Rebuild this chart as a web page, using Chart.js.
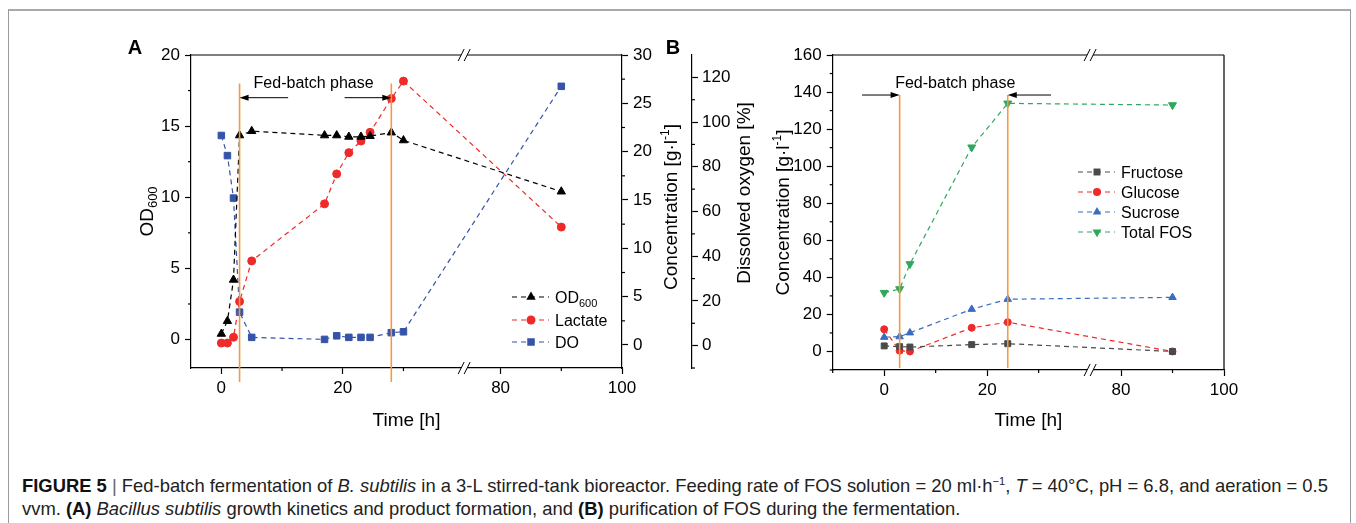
<!DOCTYPE html>
<html>
<head>
<meta charset="utf-8">
<script src="https://cdn.jsdelivr.net/npm/chart.js@4.4.1/dist/chart.umd.min.js"></script>
<style>
  body { margin: 0; background: #fff; width: 1356px; height: 523px; overflow: hidden; position: relative; font-family: "Liberation Sans", Arial, sans-serif; }
  #frame { position: absolute; left: 8px; top: 9px; width: 1341px; height: 520px; border-top: 2px solid #a9a9a9; border-left: 1px solid #9a9a9a; border-right: 1px solid #9a9a9a; }
  #wrapA { position: absolute; left: 0; top: 0; width: 760px; height: 440px; }
  #wrapB { position: absolute; left: 660px; top: 0; width: 696px; height: 440px; }
  .cap { position: absolute; left: 22px; font-size: 18.4px; color: #222; white-space: nowrap; line-height: 20px; }
  .cap b { color: #111; }
  .cap sup { font-size: 11px; line-height: 0; }
</style>
</head>
<body>
<div id="frame"></div>
<div id="wrapA"><canvas id="chartA" width="760" height="440"></canvas></div>
<div id="wrapB"><canvas id="chartB" width="696" height="440"></canvas></div>
<div class="cap" style="top:476px"><b>FIGURE 5</b> <span style="color:#666">|</span> Fed-batch fermentation of <i>B. subtilis</i> in a 3-L stirred-tank bioreactor. Feeding rate of FOS solution = 20 ml·h<sup>−1</sup>, <i>T</i> = 40°C, pH = 6.8, and aeration = 0.5</div>
<div class="cap" style="top:499px">vvm. <b>(A)</b> <i>Bacillus subtilis</i> growth kinetics and product formation, and <b>(B)</b> purification of FOS during the fermentation.</div>
<script>
// panel A: growth kinetics (time in h)
const timeA = [0, 1, 2, 3, 5, 17, 19, 21, 23, 24.5, 28, 30, 90]
const od600 = [0.4, 1.3, 4.2, 14.35, 14.65, 14.35, 14.35, 14.25, 14.25, 14.3, 14.55, 14.0, 10.4]
const lactate = [0.2, 0.2, 0.8, 4.5, 8.7, 14.6, 17.7, 19.9, 21.1, 22.0, 25.5, 27.3, 12.2]
const dissolvedO2 = [94, 85, 66, 15, 3.7, 2.8, 4.4, 3.7, 3.7, 3.7, 5.8, 6.2, 116]
const phaseA = [3, 28]

// panel B: sugars (time in h)
const timeB = [0, 3, 5, 17, 24, 90]
const fructose = [3, 2.6, 2.4, 3.7, 4.2, 0]
const glucose = [12, 0.4, 0, 12.8, 15.8, 0]
const sucrose = [7.7, 8, 10.1, 22.8, 28.2, 29.2]
const totalFOS = [31.7, 33.7, 47.2, 110.2, 133.9, 133]
const phaseB = [3, 24]

// tick labels
const xLabels = [0, 20, 80, 100]
const odTicks = [0, 5, 10, 15, 20]
const concTicksA = [0, 5, 10, 15, 20, 25, 30]
const doTicks = [0, 20, 40, 60, 80, 100, 120]
const concTicksB = [0, 20, 40, 60, 80, 100, 120, 140, 160]

// broken time axis: 40 h jumps to 74 h
const BREAK_FROM = 40
const BREAK_TO = 74
const bx = t => t <= BREAK_FROM ? t : t - (BREAK_TO - BREAK_FROM)
const realX = v => v <= BREAK_FROM ? v : v + (BREAK_TO - BREAK_FROM)

const FONT = '"Liberation Sans", Arial, sans-serif'
const RED = '#ee2a2a'
const BLUE_DO = '#3553a8'
const BLUE_SUC = '#3a6dc0'
const GREEN = '#2ea85c'
const GREY = '#4a4a4a'
const ORANGE = '#f49a45'

const pts = (times, vals) => times.map((t, i) => ({ x: bx(t), y: vals[i] }))

function series(label, times, vals, color, style, r, axis, rot) {
  return {
    label, data: pts(times, vals), yAxisID: axis,
    borderColor: color, backgroundColor: color, borderWidth: 1.2, borderDash: [5, 4],
    pointStyle: style, pointRadius: r, pointRotation: rot || 0,
    pointBackgroundColor: color, pointBorderColor: color, pointBorderWidth: 1,
    tension: 0, clip: false
  }
}

function fixedTicks(vals) {
  return s => { s.ticks = vals.map(v => ({ value: v })) }
}

function yAxis(pos, min, max, vals, width, pad) {
  return {
    type: 'linear', position: pos, min, max,
    afterBuildTicks: fixedTicks(vals),
    afterFit: s => { s.width = width },
    ticks: { font: { family: FONT, size: 17 }, color: '#000', padding: pad, autoSkip: false },
    grid: { drawOnChartArea: false, tickLength: 6, tickWidth: 1.2, tickColor: '#000' },
    border: { color: '#000', width: 1.2 }
  }
}

function xAxis(min, height) {
  return {
    type: 'linear', position: 'bottom', min: bx(min), max: bx(100),
    afterBuildTicks: fixedTicks(xLabels.map(bx)),
    afterFit: s => { s.height = height },
    ticks: { font: { family: FONT, size: 17 }, color: '#000', padding: 4, autoSkip: false, maxRotation: 0,
      callback: v => String(realX(v)) },
    grid: { drawOnChartArea: false, tickLength: 6, tickWidth: 1.2, tickColor: '#000' },
    border: { color: '#000', width: 1.2 }
  }
}

// drawing helpers
function seg(ctx, x1, y1, x2, y2) {
  ctx.beginPath(); ctx.moveTo(x1, y1); ctx.lineTo(x2, y2); ctx.stroke()
}

function marker(ctx, style, x, y, r, color) {
  ctx.fillStyle = color
  ctx.beginPath()
  if (style === 'circle') ctx.arc(x, y, r + 0.5, 0, 2 * Math.PI)
  else if (style === 'rect') { const s = r * Math.SQRT1_2 + 0.5; ctx.rect(x - s, y - s, 2 * s, 2 * s) }
  else {
    const d = style === 'triangle' ? 1 : -1
    const rr = r + 0.6
    ctx.moveTo(x, y - d * rr)
    ctx.lineTo(x + rr * 0.866, y + d * rr / 2)
    ctx.lineTo(x - rr * 0.866, y + d * rr / 2)
    ctx.closePath()
  }
  ctx.fill()
}

// text made of parts [{t, size, dy, bold}], centred at (cx, cy)
function rich(ctx, parts, cx, cy, rot) {
  ctx.save()
  ctx.translate(cx, cy)
  if (rot) ctx.rotate(rot)
  let w = 0
  parts.forEach(p => { ctx.font = (p.bold ? 'bold ' : '') + p.size + 'px ' + FONT; p.w = ctx.measureText(p.t).width; w += p.w })
  let x = -w / 2
  const base = parts[0].size * 0.36
  ctx.fillStyle = '#000'
  ctx.textBaseline = 'alphabetic'
  ctx.textAlign = 'left'
  parts.forEach(p => {
    ctx.font = (p.bold ? 'bold ' : '') + p.size + 'px ' + FONT
    ctx.fillText(p.t, x, base + (p.dy || 0))
    x += p.w
  })
  ctx.restore()
}

function breakMark(ctx, px, py) {
  ctx.save()
  ctx.fillStyle = '#fff'
  ctx.beginPath()
  ctx.moveTo(px - 6, py + 6); ctx.lineTo(px, py - 6); ctx.lineTo(px + 6, py - 6); ctx.lineTo(px, py + 6)
  ctx.closePath(); ctx.fill()
  ctx.strokeStyle = '#000'; ctx.lineWidth = 1
  seg(ctx, px - 6, py + 6, px, py - 6)
  seg(ctx, px, py + 6, px + 6, py - 6)
  ctx.restore()
}

function arrow(ctx, x1, y, x2) {
  const d = x2 > x1 ? 1 : -1
  ctx.save()
  ctx.strokeStyle = '#000'; ctx.fillStyle = '#000'; ctx.lineWidth = 1
  seg(ctx, x1, y, x2 - d * 7, y)
  ctx.beginPath(); ctx.moveTo(x2, y); ctx.lineTo(x2 - d * 9, y - 3); ctx.lineTo(x2 - d * 9, y + 3); ctx.closePath(); ctx.fill()
  ctx.restore()
}

function minorTicks(ctx, scale, vals, side, at) {
  vals.forEach(v => {
    const p = scale.getPixelForValue(v)
    if (side === 'bottom') seg(ctx, p, at, p, at + 3)
    else if (side === 'left') seg(ctx, at, p, at - 3, p)
    else seg(ctx, at, p, at + 3, p)
  })
}

function legendRow(ctx, x, y, color, style, r, parts) {
  ctx.save()
  ctx.strokeStyle = color; ctx.lineWidth = 1.2; ctx.setLineDash([5, 4])
  seg(ctx, x, y, x + 37, y)
  ctx.setLineDash([])
  marker(ctx, style, x + 19, y, r, color)
  ctx.restore()
  ctx.save()
  let w = 0
  parts.forEach(p => { ctx.font = p.size + 'px ' + FONT; w += ctx.measureText(p.t).width })
  ctx.restore()
  rich(ctx, parts, x + 43 + w / 2, y, 0)
}

const panelA = {
  id: 'panelA',
  afterDraw(chart) {
    const { ctx, chartArea: a } = chart
    const { x, y, yc, yd } = chart.scales
    ctx.save()
    ctx.strokeStyle = '#000'; ctx.lineWidth = 1.2
    seg(ctx, a.left, a.top, a.right, a.top)
    minorTicks(ctx, x, [10, 30, 90].map(bx), 'bottom', a.bottom)
    minorTicks(ctx, y, [2.5, 7.5, 12.5, 17.5], 'left', a.left)
    minorTicks(ctx, yc, [2.5, 7.5, 12.5, 17.5, 22.5, 27.5], 'right', a.right)
    minorTicks(ctx, yd, [-10, 10, 30, 50, 70, 90, 110], 'right', yd.left)
    const bp = x.getPixelForValue(BREAK_FROM)
    breakMark(ctx, bp, a.top)
    breakMark(ctx, bp, a.bottom)

    ctx.strokeStyle = ORANGE; ctx.lineWidth = 1.6
    const px = phaseA.map(t => x.getPixelForValue(bx(t)))
    px.forEach(p => seg(ctx, p, y.getPixelForValue(18), p, a.bottom + 14))
    const ay = y.getPixelForValue(17)
    arrow(ctx, x.getPixelForValue(11), ay, px[0])
    arrow(ctx, x.getPixelForValue(20.3), ay, px[1])
    rich(ctx, [{ t: 'Fed-batch phase', size: 16 }], x.getPixelForValue(15.2), y.getPixelForValue(18.1), 0)

    // axis titles
    const cy = (a.top + a.bottom) / 2
    rich(ctx, [{ t: 'OD', size: 19 }, { t: '600', size: 13, dy: 4 }], 146, cy, -Math.PI / 2)
    rich(ctx, [{ t: 'Concentration [g·l', size: 19 }, { t: '-1', size: 12, dy: -8 }, { t: ']', size: 19 }], 670, 207, -Math.PI / 2)
    rich(ctx, [{ t: 'Dissolved oxygen [%]', size: 19 }], 743, 193, -Math.PI / 2)
    rich(ctx, [{ t: 'Time [h]', size: 19 }], (a.left + a.right) / 2, 419, 0)
    rich(ctx, [{ t: 'A', size: 20, bold: true }], 135, 47, 0)
    rich(ctx, [{ t: 'B', size: 20, bold: true }], 673, 47, 0)

    legendRow(ctx, 512, 297, '#000', 'triangle', 4.8, [{ t: 'OD', size: 16 }, { t: '600', size: 11, dy: 4 }])
    legendRow(ctx, 512, 320, RED, 'circle', 4, [{ t: 'Lactate', size: 16 }])
    legendRow(ctx, 512, 342, BLUE_DO, 'rect', 4.6, [{ t: 'DO', size: 16 }])
    ctx.restore()
  }
}

const panelB = {
  id: 'panelB',
  afterDraw(chart) {
    const { ctx, chartArea: a } = chart
    const { x, y } = chart.scales
    ctx.save()
    ctx.strokeStyle = '#000'; ctx.lineWidth = 1.2
    seg(ctx, a.left, a.top, a.right, a.top)
    seg(ctx, a.right, a.top, a.right, a.bottom)
    minorTicks(ctx, x, [-10, 10, 30, 90].map(bx), 'bottom', a.bottom)
    minorTicks(ctx, y, [-10, 10, 30, 50, 70, 90, 110, 130, 150], 'left', a.left)
    const bp = x.getPixelForValue(BREAK_FROM)
    breakMark(ctx, bp, a.top)
    breakMark(ctx, bp, a.bottom)

    ctx.strokeStyle = ORANGE; ctx.lineWidth = 1.6
    const px = phaseB.map(t => x.getPixelForValue(bx(t)))
    const top = y.getPixelForValue(138.4)
    px.forEach(p => seg(ctx, p, top, p, a.bottom - 2))
    arrow(ctx, x.getPixelForValue(-4.3), top, px[0])
    arrow(ctx, x.getPixelForValue(32.4), top, px[1])
    rich(ctx, [{ t: 'Fed-batch phase', size: 16 }], x.getPixelForValue(13.8), y.getPixelForValue(145.4), 0)

    rich(ctx, [{ t: 'Concentration [g·l', size: 19 }, { t: '-1', size: 12, dy: -8 }, { t: ']', size: 19 }], 122, (a.top + a.bottom) / 2, -Math.PI / 2)
    rich(ctx, [{ t: 'Time [h]', size: 19 }], (a.left + a.right) / 2, 419, 0)

    legendRow(ctx, 418, 172, GREY, 'rect', 4.2, [{ t: 'Fructose', size: 16 }])
    legendRow(ctx, 418, 192, RED, 'circle', 3.5, [{ t: 'Glucose', size: 16 }])
    legendRow(ctx, 418, 212, BLUE_SUC, 'triangle', 4.3, [{ t: 'Sucrose', size: 16 }])
    legendRow(ctx, 418, 232, GREEN, 'triangleDown', 4.6, [{ t: 'Total FOS', size: 16 }])
    ctx.restore()
  }
}

const common = {
  animation: false, responsive: false, maintainAspectRatio: false, events: [],
  plugins: { legend: { display: false }, tooltip: { enabled: false } }
}

new Chart(document.getElementById('chartA'), {
  type: 'line',
  data: {
    datasets: [
      series('OD600', timeA, od600, '#000', 'triangle', 4.8, 'y'),
      series('Lactate', timeA, lactate, RED, 'circle', 4, 'yc'),
      series('DO', timeA, dissolvedO2, BLUE_DO, 'rect', 4.6, 'yd')
    ]
  },
  options: {
    ...common,
    layout: { padding: { top: 55, left: 0, right: 0, bottom: 0 } },
    scales: {
      x: xAxis(-5, 72),
      y: yAxis('left', -2, 20, odTicks, 191, 5),
      yc: yAxis('right', -2.38, 30, concTicksA, 70, 5),
      yd: yAxis('right', -10, 130, doTicks, 68, 4)
    }
  },
  plugins: [panelA]
})

new Chart(document.getElementById('chartB'), {
  type: 'line',
  data: {
    datasets: [
      series('Fructose', timeB, fructose, GREY, 'rect', 4.2, 'y'),
      series('Glucose', timeB, glucose, RED, 'circle', 3.5, 'y'),
      series('Sucrose', timeB, sucrose, BLUE_SUC, 'triangle', 4.3, 'y'),
      series('Total FOS', timeB, totalFOS, GREEN, 'triangle', 4.6, 'y', 180)
    ]
  },
  options: {
    ...common,
    layout: { padding: { top: 55, left: 0, right: 132, bottom: 0 } },
    scales: {
      x: xAxis(-10, 70),
      y: yAxis('left', -10, 160, concTicksB, 172.7, 5)
    }
  },
  plugins: [panelB]
})
</script>
</body>
</html>
